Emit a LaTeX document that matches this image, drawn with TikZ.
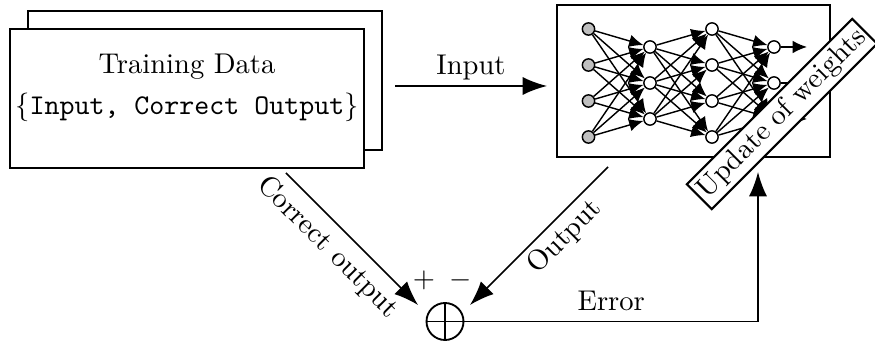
\documentclass[tikz,border=0pt]{standalone}
\usetikzlibrary{arrows.meta}
\begin{document}
\begin{tikzpicture}[x=0.35pt,y=-0.35pt,
  flow/.style={-{Latex[length=8.5pt,width=6.3pt]}, line width=0.55pt},
  databox/.style={draw, fill=white, line width=0.5pt, minimum width=123.9pt, minimum height=48.65pt, inner sep=0pt},
  netbox/.style={draw, line width=0.75pt, minimum width=95.55pt, minimum height=53.2pt, inner sep=0pt},
  neuron/.style={circle, draw, fill=white, line width=0.5pt, minimum size=4.3pt, inner sep=0pt},
  inneuron/.style={neuron, fill=black!25},
  synapse/.style={-{Latex[length=5pt,width=4.4pt]}, line width=0.5pt},
  tagbox/.style={draw, fill=white, line width=0.75pt, inner xsep=1.3pt, inner ysep=1.6pt, rotate=45},
  sumnode/.style={circle, draw, line width=0.65pt, minimum size=12.95pt, inner sep=0pt}]
\useasboundingbox (0,0) rectangle (875,343);

% stacked training-data cards
\node[databox] (tdback) at (205,80.5) {};
\node[databox] (td) at (187,98.5) {};
\node[anchor=base] (tdtitle) at (187,74) {Training Data};
\node[anchor=base] (tdfields) at (187,115) {$\{$\texttt{Input, Correct Output}$\}$};

% neural network
\node[netbox] (net) at (693.5,81) {};
\foreach \i/\y in {1/29,2/65,3/101,4/137} {
  \node[inneuron] (a\i) at (588.5,\y) {};
  \node[neuron] (c\i) at (712,\y) {};
}
\foreach \i/\y in {1/47,2/83,3/119} {
  \node[neuron] (b\i) at (650,\y) {};
  \node[neuron] (d\i) at (774,\y) {};
  \coordinate (o\i) at (807,\y);
}
\foreach \i in {1,...,4} \foreach \j in {1,2,3} {
  \draw[synapse] (a\i) -- (b\j);
  \draw[synapse] (c\i) -- (d\j);
}
\foreach \i in {1,2,3} \foreach \j in {1,...,4}
  \draw[synapse] (b\i) -- (c\j);
\foreach \i in {1,2,3} \draw[synapse] (d\i) -- (o\i);

% weight update tag
\node[tagbox] (upd) at (782,114) {Update of weights};

% input arrow
\coordinate (inA) at (395,86);
\coordinate (inB) at (547,86);
\draw[flow] (inA) -- node[above, inner ysep=1.9pt] (inlbl) {Input} (inB);

% summing junction
\node[sumnode] (sum) at (445,321.5) {};
\draw[line width=0.65pt] (sum.north) -- (sum.south) (sum.west) -- (sum.east);
\node (plus) at (424,280.5) {$+$};
\node (minus) at (461,280.5) {$-$};

% correct output and network output
\coordinate (coA) at (286,173);
\coordinate (coB) at (418,305);
\draw[flow] (coA) -- node[sloped, below, pos=0.44] (colbl) {Correct output} (coB);
\coordinate (ouA) at (608,167);
\coordinate (ouB) at (470,305);
\draw[flow] (ouA) -- node[sloped, below=-1.4pt, pos=0.41] (oulbl) {Output} (ouB);

% error feedback
\coordinate (corner) at (758,321.5);
\coordinate (updin) at (758,172);
\draw[flow] (sum) -- node[above] (errlbl) {Error} (corner) -- (updin);
\end{tikzpicture}
\end{document}
